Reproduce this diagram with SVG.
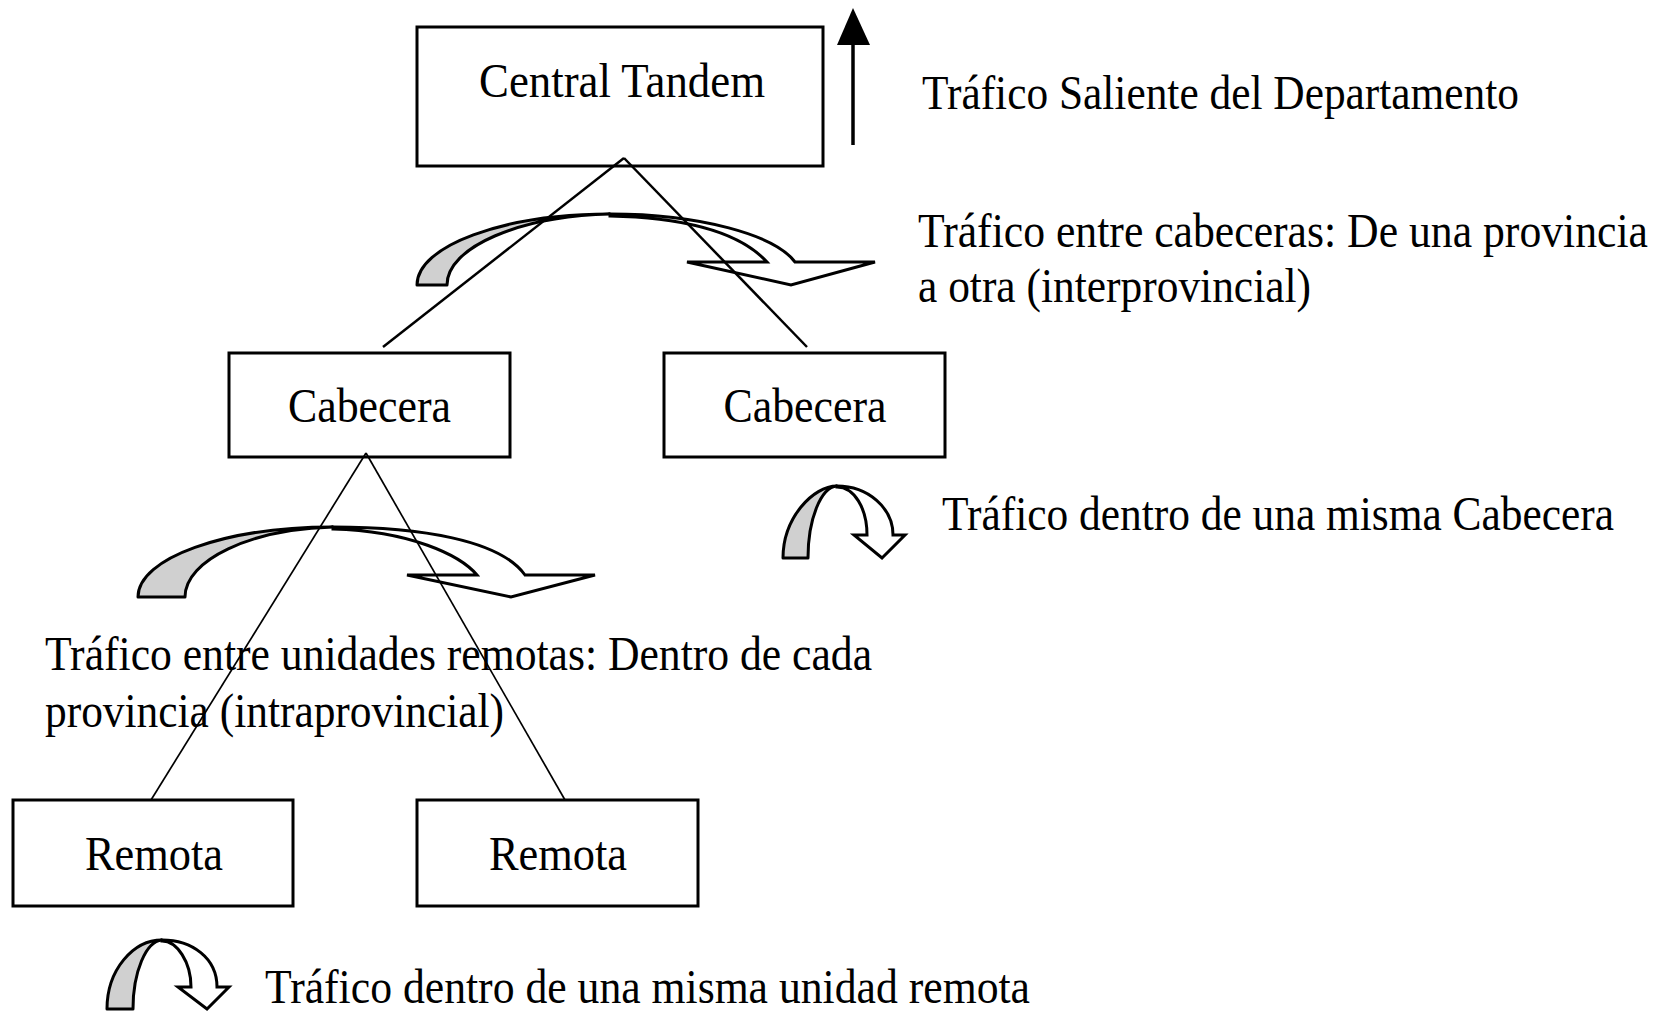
<svg xmlns="http://www.w3.org/2000/svg" width="1661" height="1011" viewBox="0 0 1661 1011">
<style>
.box{fill:#fff;stroke:#000;stroke-width:3}
.t{font-family:"Liberation Serif","Times New Roman",serif;font-size:48px;fill:#000}
.gray{fill:#d0d0d0;stroke:#000;stroke-width:3;stroke-linejoin:round}
.white{fill:#fff;stroke:#000;stroke-width:3;stroke-linejoin:miter}
.ln{stroke:#000;fill:none}
</style>
<rect width="1661" height="1011" fill="#fff"/>
<g id="arrows">
  <g id="arrow-interprovincial">
    <path class="gray" d="M417,285 C417,246 503,214 610,214 C520,216 447,247 447,285 Z"/>
    <path class="white" d="M610,214 C700,214 775,235 795,262 L875,262 L791,285 L687,262 L767,262 C745,238 700,218 610,216 Z"/>
  </g>
  <g id="arrow-intraprovincial">
    <path class="gray" d="M138,597 C138,558 225,527 333,527 C251,529 185,560 185,597 Z"/>
    <path class="white" d="M333,527 C420,527 500,540 525,575 L595,575 L511,597 L407,575 L477,575 C460,555 410,531 333,529 Z"/>
  </g>
  <g id="arrow-cabecera">
    <path class="gray" d="M783,558 C783,518 813,486 837,486 C821,487 808,519 808,558 Z"/>
    <path class="white" d="M837,486 C868,486 893,508 893,535 L905,535 L882,558 L854,535 L867,535 C867,508 854,487 837,487 Z"/>
  </g>
  <g id="arrow-remota">
    <path class="gray" d="M107,1009 C107,970 133,940 162,940 C146,941 133,972 133,1009 Z"/>
    <path class="white" d="M162,940 C192,940 217,958 217,987 L229,987 L207,1009 L178,987 L191,987 C191,962 177,941 162,941 Z"/>
  </g>
  <g id="arrow-saliente">
    <line class="ln" x1="853" y1="145" x2="853" y2="40" stroke-width="3.5"/>
    <polygon points="853,8 837,45 870,45" fill="#000"/>
  </g>
</g>
<g id="node-central">
  <rect class="box" x="417" y="27" width="406" height="139"/>
  <text class="t" x="479" y="97" textLength="286" lengthAdjust="spacingAndGlyphs">Central Tandem</text>
</g>
<g id="node-cabecera1">
  <rect class="box" x="229" y="353" width="281" height="104"/>
  <text class="t" x="288" y="422" textLength="163" lengthAdjust="spacingAndGlyphs">Cabecera</text>
</g>
<g id="node-cabecera2">
  <rect class="box" x="664" y="353" width="281" height="104"/>
  <text class="t" x="723.5" y="422" textLength="163" lengthAdjust="spacingAndGlyphs">Cabecera</text>
</g>
<g id="node-remota1">
  <rect class="box" x="13" y="800" width="280" height="106"/>
  <text class="t" x="85" y="870" textLength="138" lengthAdjust="spacingAndGlyphs">Remota</text>
</g>
<g id="node-remota2">
  <rect class="box" x="417" y="800" width="281" height="106"/>
  <text class="t" x="489" y="870" textLength="138" lengthAdjust="spacingAndGlyphs">Remota</text>
</g>
<g id="connectors">
  <line class="ln" x1="624" y1="158" x2="383" y2="347" stroke-width="2.5"/>
  <line class="ln" x1="624" y1="158" x2="807" y2="347" stroke-width="2.5"/>
  <line class="ln" x1="366" y1="453" x2="151" y2="800" stroke-width="1.7"/>
  <line class="ln" x1="366" y1="453" x2="565" y2="800" stroke-width="1.7"/>
</g>
<g id="labels">
  <text class="t" x="922" y="109" textLength="597" lengthAdjust="spacingAndGlyphs">Tráfico Saliente del Departamento</text>
  <text class="t" x="918" y="247" textLength="730" lengthAdjust="spacingAndGlyphs">Tráfico entre cabeceras: De una provincia</text>
  <text class="t" x="918" y="302" textLength="393" lengthAdjust="spacingAndGlyphs">a otra (interprovincial)</text>
  <text class="t" x="942" y="530" textLength="672" lengthAdjust="spacingAndGlyphs">Tráfico dentro de una misma Cabecera</text>
  <text class="t" x="45" y="670" textLength="827" lengthAdjust="spacingAndGlyphs">Tráfico entre unidades remotas: Dentro de cada</text>
  <text class="t" x="45" y="727" textLength="459" lengthAdjust="spacingAndGlyphs">provincia (intraprovincial)</text>
  <text class="t" x="265" y="1003" textLength="765" lengthAdjust="spacingAndGlyphs">Tráfico dentro de una misma unidad remota</text>
</g>
</svg>
